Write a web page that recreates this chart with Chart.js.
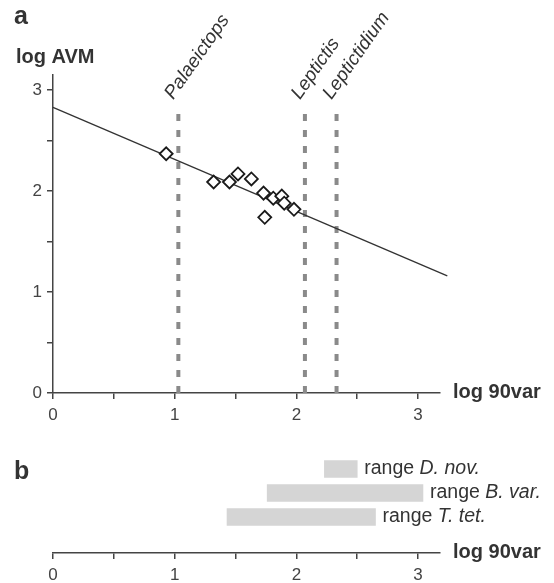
<!DOCTYPE html>
<html>
<head>
<meta charset="utf-8">
<script src="https://cdn.jsdelivr.net/npm/chart.js@4.4.0/dist/chart.umd.min.js"></script>
<style>
  html, body { margin: 0; padding: 0; background: #fff; }
  #wrap { position: relative; width: 554px; height: 583px; }
  #chartA { position: absolute; left: 0; top: 0; width: 554px; height: 430px; }
  #chartB { position: absolute; left: 0; top: 430px; width: 554px; height: 153px; }
</style>
</head>
<body>
<div id="wrap">
  <canvas id="chartA" width="554" height="430"></canvas>
  <canvas id="chartB" width="554" height="153"></canvas>
</div>
<script>
// ══════════════════════════════
//  DATA
// ══════════════════════════════
const specX = [0.93, 1.32, 1.45, 1.52, 1.63, 1.73, 1.74, 1.81, 1.88, 1.90, 1.98];
const specY = [2.37, 2.09, 2.09, 2.17, 2.12, 1.98, 1.74, 1.93, 1.95, 1.88, 1.82];

const fitX = [0, 3.24];
const fitY = [2.83, 1.16];

const taxa = ['Palaeictops', 'Leptictis', 'Leptictidium'];
const taxaX = [1.03, 2.07, 2.33];
const taxaTop = 2.84;

const xTicks = [0, 0.5, 1, 1.5, 2, 2.5, 3];
const yTicks = [0, 0.5, 1, 1.5, 2, 2.5, 3];

const rangeNames = ['D. nov.', 'B. var.', 'T. tet.'];
const rangeLo = [2.23, 1.76, 1.43];
const rangeHi = [2.50, 3.04, 2.65];

const FONT = '"Liberation Sans", Arial, sans-serif';
const INK = '#333';
const AXIS = '#444';

// shared x axis (log 90var)
function xAxis(height) {
  return {
    type: 'linear',
    min: 0,
    max: 3.18,
    afterBuildTicks: (axis) => { axis.ticks = xTicks.map(v => ({ value: v })); },
    afterFit: (scale) => { scale.height = height; },
    ticks: {
      color: AXIS,
      font: { family: FONT, size: 17 },
      padding: 6,
      maxRotation: 0,
      autoSkip: false,
      callback: (v) => Number.isInteger(v) ? v : '',
    },
    grid: { drawOnChartArea: false, drawTicks: true, tickLength: 6, color: AXIS, lineWidth: 1.5 },
    border: { display: true, color: AXIS, width: 1.5 },
  };
}

// ══════════════════════════════
//  PANEL A (scatter + fit)
// ══════════════════════════════
const labelsA = {
  id: 'labelsA',
  afterDraw(chart) {
    const ctx = chart.ctx;
    const xs = chart.scales.x, ys = chart.scales.y;
    ctx.save();
    ctx.fillStyle = INK;
    ctx.textBaseline = 'middle';
    ctx.textAlign = 'left';
    ctx.font = 'bold 25px ' + FONT;
    ctx.fillText('a', 14, 17);
    ctx.font = 'bold 20px ' + FONT;
    ctx.fillText('log AVM', 16, 57);
    ctx.fillText('log 90var', 453, ys.getPixelForValue(0) - 1);

    ctx.font = 'italic 19px ' + FONT;
    ctx.textBaseline = 'alphabetic';
    taxa.forEach((name, i) => {
      const px = xs.getPixelForValue(taxaX[i]);
      const py = ys.getPixelForValue(taxaTop);
      ctx.save();
      ctx.translate(px - 5, py - 6);
      ctx.rotate(-55 * Math.PI / 180);
      ctx.fillText(name, 0, 0);
      ctx.restore();
    });
    ctx.restore();
  }
};

const datasetsA = [
  {
    label: 'specimens',
    data: specX.map((x, i) => ({ x: x, y: specY[i] })),
    pointStyle: 'rectRot',
    pointRadius: 6.5,
    pointBorderWidth: 1.8,
    pointBorderColor: '#1a1a1a',
    pointBackgroundColor: '#fff',
    showLine: false,
  },
  {
    label: 'fit',
    data: fitX.map((x, i) => ({ x: x, y: fitY[i] })),
    borderColor: INK,
    borderWidth: 1.3,
    pointRadius: 0,
    showLine: true,
    clip: false,
  },
];
taxa.forEach((name, i) => {
  datasetsA.push({
    label: name,
    data: [{ x: taxaX[i], y: 0 }, { x: taxaX[i], y: taxaTop }],
    borderColor: '#8a8a8a',
    borderWidth: 4,
    borderDash: [7, 9],
    pointRadius: 0,
    showLine: true,
    clip: false,
  });
});

new Chart(document.getElementById('chartA'), {
  type: 'scatter',
  data: { datasets: datasetsA },
  plugins: [labelsA],
  options: {
    responsive: false,
    animation: false,
    devicePixelRatio: 1,
    layout: { padding: { top: 75, right: 114, left: 0, bottom: 0 } },
    plugins: { legend: { display: false }, tooltip: { enabled: false } },
    scales: {
      x: xAxis(37),
      y: {
        type: 'linear',
        min: 0,
        max: 3.15,
        afterBuildTicks: (axis) => { axis.ticks = yTicks.map(v => ({ value: v })); },
        afterFit: (scale) => { scale.width = 53; },
        ticks: {
          color: AXIS,
          font: { family: FONT, size: 17 },
          padding: 5,
          autoSkip: false,
          callback: (v) => Number.isInteger(v) ? v : '',
        },
        grid: { drawOnChartArea: false, drawTicks: true, tickLength: 6, color: AXIS, lineWidth: 1.5 },
        border: { display: true, color: AXIS, width: 1.5 },
      },
    },
  },
});

// ══════════════════════════════
//  PANEL B (ranges)
// ══════════════════════════════
const labelsB = {
  id: 'labelsB',
  afterDraw(chart) {
    const ctx = chart.ctx;
    ctx.save();
    ctx.fillStyle = INK;
    ctx.textBaseline = 'middle';
    ctx.textAlign = 'left';
    ctx.font = 'bold 25px ' + FONT;
    ctx.fillText('b', 14, 42);
    ctx.font = 'bold 20px ' + FONT;
    ctx.fillText('log 90var', 453, chart.chartArea.bottom - 1);

    const meta = chart.getDatasetMeta(0);
    meta.data.forEach((bar, i) => {
      const end = Math.max(bar.x, bar.base) + 7;
      ctx.font = '19.5px ' + FONT;
      const pre = 'range ';
      ctx.fillText(pre, end, bar.y);
      const w = ctx.measureText(pre).width;
      ctx.font = 'italic 19.5px ' + FONT;
      ctx.fillText(rangeNames[i], end + w, bar.y);
    });
    ctx.restore();
  }
};

new Chart(document.getElementById('chartB'), {
  type: 'bar',
  data: {
    datasets: [{
      label: 'ranges',
      data: rangeNames.map((n, i) => ({ x: [rangeLo[i], rangeHi[i]], y: i })),
      backgroundColor: '#d5d5d5',
      borderWidth: 0,
      borderSkipped: false,
      barThickness: 17,
    }],
  },
  plugins: [labelsB],
  options: {
    indexAxis: 'y',
    responsive: false,
    animation: false,
    devicePixelRatio: 1,
    layout: { padding: { top: 27, right: 114, left: 53, bottom: 0 } },
    plugins: { legend: { display: false }, tooltip: { enabled: false } },
    scales: {
      x: xAxis(30),
      y: { type: 'linear', min: -0.5, max: 3.5, reverse: true, offset: false, display: false },
    },
  },
});
</script>
</body>
</html>
